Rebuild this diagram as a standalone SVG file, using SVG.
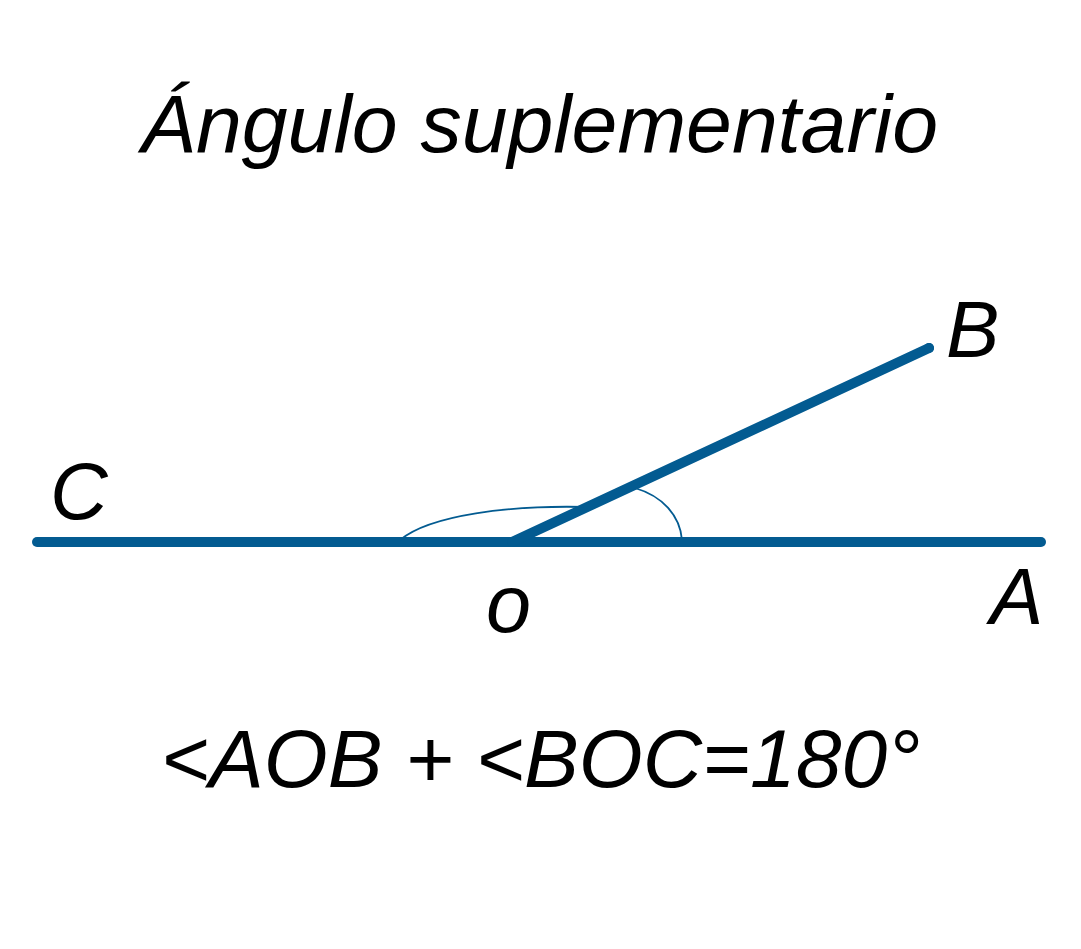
<svg xmlns="http://www.w3.org/2000/svg" width="1081" height="949" viewBox="0 0 1081 949">
<style>
.t{font-family:"Liberation Sans",Arial,sans-serif;font-style:italic;fill:#000}
.ln{stroke:#035b91;stroke-width:10;stroke-linecap:round;fill:none}
.arc{stroke:#035b91;stroke-width:1.8;fill:none}
</style>
<rect width="1081" height="949" fill="#fff"/>
<g id="title"><text class="t" x="141" y="152" font-size="81" textLength="797" lengthAdjust="spacingAndGlyphs">Ángulo suplementario</text></g>
<g id="connectors">
<line class="ln" x1="37" y1="542" x2="1041" y2="542"/>
<line class="ln" x1="512" y1="542" x2="929" y2="348" stroke-linecap="butt"/>
<circle cx="929" cy="348" r="5" fill="#035b91"/>
<path class="arc" d="M 635 488 C 662 496 680 515 682 540"/>
<path class="arc" d="M 400 540 C 430 515 510 505 587 507"/>
</g>
<g id="label-C"><text class="t" x="50" y="519" font-size="80">C</text></g>
<g id="label-B"><text class="t" x="946" y="357" font-size="80">B</text></g>
<g id="label-O"><text class="t" x="486" y="632" font-size="81">o</text></g>
<g id="label-A"><text class="t" x="990" y="624" font-size="80">A</text></g>
<g id="formula"><text class="t" x="161" y="787" font-size="82" textLength="759" lengthAdjust="spacingAndGlyphs">&lt;AOB + &lt;BOC=180°</text></g>
</svg>
